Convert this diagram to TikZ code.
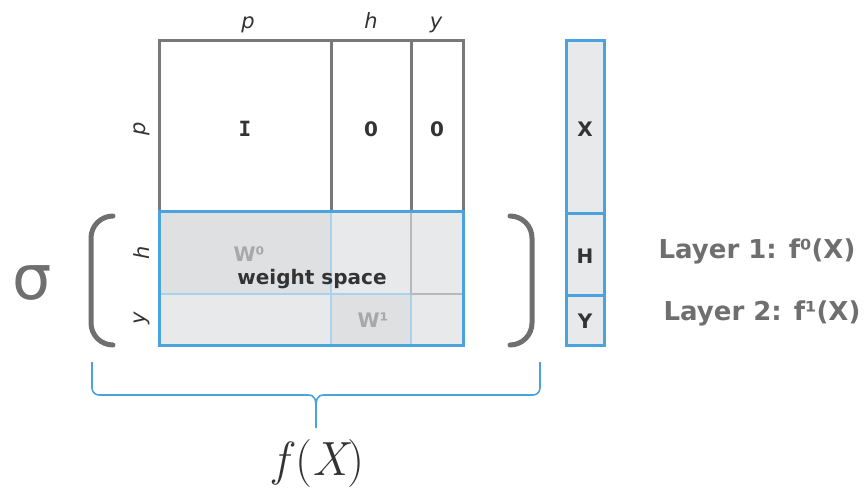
\documentclass[tikz,border=0pt]{standalone}
\usepackage{fontspec}
\newfontfamily\sansfam{DejaVu Sans}
\newfontfamily\serifI{DejaVu Sans Mono}
\definecolor{framegray}{HTML}{787878}
\definecolor{bluebar}{HTML}{4AA3DF}
\definecolor{lightblue}{HTML}{A9D2EE}
\definecolor{cellA}{HTML}{DFE0E2}
\definecolor{cellB}{HTML}{E8E9EB}
\definecolor{txtdark}{HTML}{333333}
\definecolor{txtgray}{HTML}{6F6F6F}
\definecolor{wgray}{HTML}{A8A8A8}
\definecolor{innergray}{HTML}{B8B8B8}
\tikzset{
  gridline/.style={draw=framegray, line width=3pt},
  blueline/.style={draw=bluebar, line width=3pt},
  softblue/.style={draw=lightblue, line width=2.5pt},
  softgray/.style={draw=innergray, line width=2.5pt},
  dimlabel/.style={font=\sansfam\fontsize{21}{21}\selectfont\itshape, text=txtdark, inner sep=0pt},
  entry/.style={font=\sansfam\fontsize{20}{20}\selectfont\bfseries, text=txtdark, inner sep=0pt},
  wlabel/.style={font=\sansfam\fontsize{20}{20}\selectfont\bfseries, text=wgray, inner sep=0pt},
  layerlabel/.style={font=\sansfam\fontsize{26}{26}\selectfont\bfseries, text=txtgray, inner sep=0pt},
  paren/.style={draw=txtgray, line width=5pt, line cap=round, rounded corners=22pt},
  bracecurve/.style={draw=bluebar, line width=1.6pt}
}
\begin{document}
\begin{tikzpicture}[x=1pt,y=-1pt]
\useasboundingbox (0,0) rectangle (864,491);

% shaded lower block of the matrix (weight space)
\fill[cellB] (159,211) rectangle (463,345);
\fill[cellA] (159,211) rectangle (331,294);
\fill[cellA] (331,294) rectangle (411,345);

% upper block: identity and zero blocks
\draw[gridline] (159,211) -- (159,40) -- (463,40) -- (463,211);
\draw[gridline] (331,40) -- (331,211);
\draw[gridline] (411,40) -- (411,211);

% inner divisions of the lower block
\draw[softblue] (331,211) -- (331,345);
\draw[softblue] (159,294) -- (411,294);
\draw[softblue] (411,294) -- (411,345);
\draw[softgray] (411,211) -- (411,294) -- (463,294);
\draw[blueline] (159,211) rectangle (463,345);

% column and row dimensions
\node[dimlabel, anchor=base] (cp) at (248,28) {p};
\node[dimlabel, anchor=base] (ch) at (371,28) {h};
\node[dimlabel, anchor=base] (cy) at (436,28) {y};
\node[dimlabel, rotate=90] (rp) at (142,129) {p};
\node[dimlabel, rotate=90] (rh) at (142,253) {h};
\node[dimlabel, rotate=90] (ry) at (142,318) {y};

% block entries
\node[entry, font=\serifI\fontsize{21}{21}\selectfont\bfseries] (eI) at (245,129) {I};
\node[entry] (eH) at (371,129) {0};
\node[entry] (eY) at (437,129) {0};
\node[wlabel] (w0) at (249,254) {W⁰};
\node[wlabel] (w1) at (373,320) {W¹};
\node[entry] (ws) at (312,279) {weight space};

% activation function and its brackets
\node[text=txtgray, font=\sansfam\fontsize{62}{62}\selectfont, inner sep=0pt] (sig) at (32,283) {σ};
\draw[paren] (113,216) -- (91,216) -- (91,345) -- (113,345);
\draw[paren] (510,216) -- (532,216) -- (532,345) -- (510,345);

% state vector
\fill[cellB] (566,40) rectangle (604,345);
\draw[blueline] (566,40) rectangle (604,345);
\draw[blueline] (566,213) -- (604,213);
\draw[blueline] (566,295) -- (604,295);
\node[entry] (vX) at (585,129) {X};
\node[entry] (vH) at (585,256) {H};
\node[entry] (vY) at (585,321) {Y};

% layer annotations
\node[layerlabel] (l1) at (757,251) {Layer 1: f⁰(X)};
\node[layerlabel] (l2) at (762,313) {Layer 2: f¹(X)};

% underbrace and its label
\coordinate (bl) at (92,362);
\coordinate (br) at (540,362);
\coordinate (tip) at (316,428);
\draw[bracecurve, rounded corners=7pt] (bl) |- (308,395);
\draw[bracecurve] (308,395) .. controls (315,395) and (316,399) .. (316,410) -- (tip);
\draw[bracecurve, rounded corners=7pt] (br) |- (324,395);
\draw[bracecurve] (324,395) .. controls (317,395) and (316,399) .. (316,410);
\node[text=txtdark, font=\fontsize{48}{48}\selectfont, inner sep=0pt] (fx) at (319,464) {\itshape f\,\upshape(\itshape X\upshape)};
\end{tikzpicture}
\end{document}
